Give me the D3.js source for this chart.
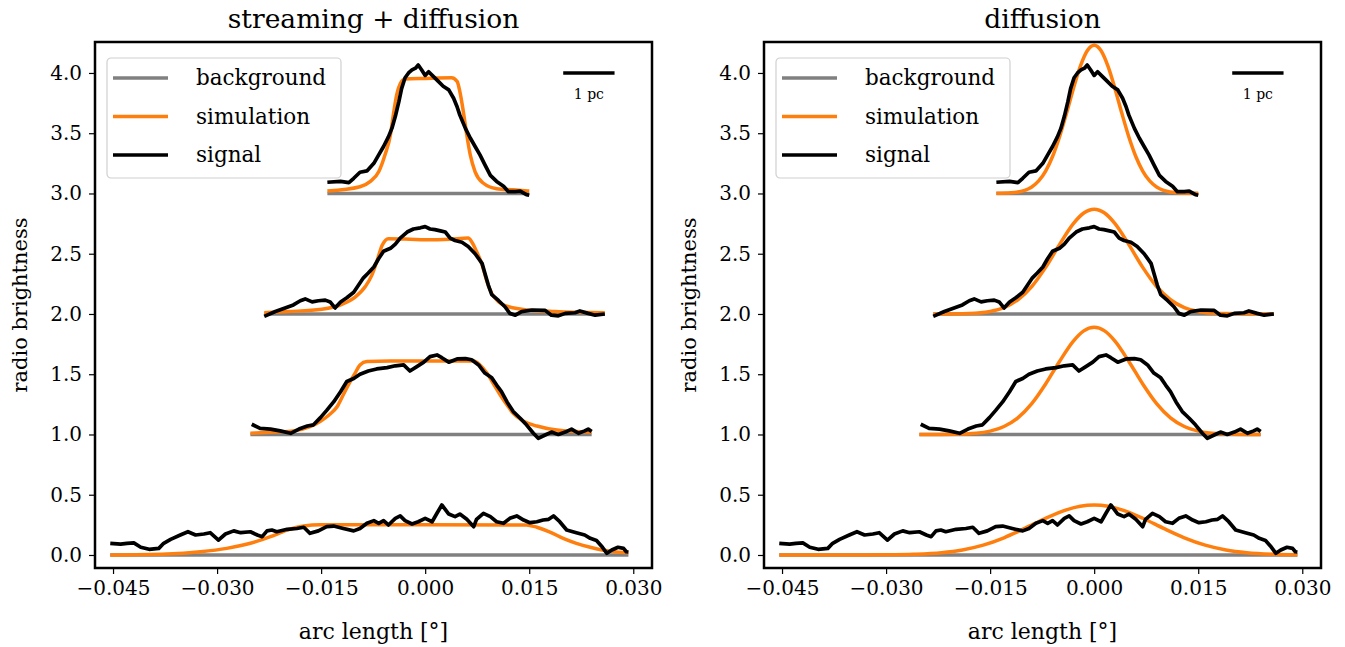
<!DOCTYPE html>
<html>
<head>
<meta charset="utf-8">
<title>radio brightness profiles</title>
<script src="https://cdn.jsdelivr.net/npm/d3@7"></script>
<style>
  body { margin: 0; background: #fff; }
  svg { display: block; }
</style>
</head>
<body>
<div id="chart"></div>
<script>
// ---- data ----
// measured signal, same in both panels: [arc length, brightness]
const signal3 = [[-0.0141,3.093],[-0.0122,3.10],[-0.0110,3.09],[-0.0103,3.126],[-0.0094,3.176],[-0.0084,3.187],[-0.0074,3.25],[-0.0067,3.32],[-0.0060,3.39],[-0.0053,3.47],[-0.0048,3.54],[-0.0043,3.64],[-0.0038,3.76],[-0.0034,3.87],[-0.0029,3.96],[-0.0024,4.00],[-0.0019,4.025],[-0.0014,4.04],[-0.0010,4.066],[-0.0005,4.025],[0.0000,3.98],[0.0005,4.01],[0.0012,3.97],[0.0019,3.93],[0.0026,3.89],[0.0034,3.86],[0.0041,3.79],[0.0046,3.72],[0.0050,3.65],[0.0058,3.54],[0.0065,3.46],[0.0072,3.39],[0.0079,3.32],[0.0086,3.24],[0.0094,3.15],[0.0103,3.10],[0.0113,3.06],[0.0120,3.015],[0.0130,3.015],[0.0137,3.02],[0.0146,2.99],[0.0150,2.985]];
const signal2 = [[-0.0232,1.98],[-0.0216,2.02],[-0.0202,2.05],[-0.0190,2.075],[-0.0180,2.11],[-0.0173,2.125],[-0.0163,2.10],[-0.0154,2.11],[-0.0144,2.115],[-0.0137,2.10],[-0.0130,2.05],[-0.0122,2.10],[-0.0113,2.135],[-0.0103,2.18],[-0.0096,2.24],[-0.0089,2.30],[-0.0082,2.34],[-0.0074,2.39],[-0.0067,2.46],[-0.0060,2.52],[-0.0050,2.545],[-0.0043,2.58],[-0.0036,2.63],[-0.0026,2.68],[-0.0017,2.705],[-0.0007,2.715],[0.0000,2.725],[0.0007,2.705],[0.0014,2.70],[0.0022,2.69],[0.0029,2.68],[0.0036,2.63],[0.0043,2.61],[0.0053,2.595],[0.0062,2.56],[0.0072,2.50],[0.0082,2.42],[0.0086,2.34],[0.0091,2.24],[0.0096,2.16],[0.0106,2.11],[0.0115,2.06],[0.0122,2.005],[0.0130,1.99],[0.0139,2.02],[0.0154,2.033],[0.0173,2.03],[0.0182,1.99],[0.0192,1.985],[0.0202,2.005],[0.0216,2.01],[0.0223,2.025],[0.0235,2.005],[0.0245,1.99],[0.0259,2.00]];
const signal1 = [[-0.0250,1.085],[-0.0238,1.05],[-0.0223,1.045],[-0.0209,1.03],[-0.0194,1.01],[-0.0182,1.045],[-0.0170,1.07],[-0.0161,1.08],[-0.0151,1.14],[-0.0142,1.20],[-0.0132,1.27],[-0.0122,1.355],[-0.0113,1.44],[-0.0103,1.465],[-0.0094,1.50],[-0.0082,1.527],[-0.0070,1.544],[-0.0055,1.555],[-0.0043,1.57],[-0.0031,1.577],[-0.0022,1.527],[-0.0012,1.563],[-0.0002,1.60],[0.0007,1.646],[0.0017,1.66],[0.0024,1.637],[0.0034,1.60],[0.0046,1.627],[0.0058,1.63],[0.0067,1.62],[0.0077,1.577],[0.0086,1.51],[0.0096,1.47],[0.0103,1.41],[0.0110,1.355],[0.0118,1.27],[0.0127,1.19],[0.0137,1.135],[0.0146,1.08],[0.0156,1.01],[0.0163,0.968],[0.0173,0.996],[0.0182,1.02],[0.0192,1.00],[0.0202,1.02],[0.0211,1.045],[0.0221,1.01],[0.0230,1.03],[0.0235,1.045],[0.0240,1.025]];
const signal0 = [[-0.0454,0.097],[-0.0439,0.09],[-0.0430,0.097],[-0.0420,0.10],[-0.0410,0.064],[-0.0398,0.047],[-0.0384,0.055],[-0.0377,0.097],[-0.0367,0.13],[-0.0353,0.166],[-0.0342,0.193],[-0.0331,0.166],[-0.0319,0.174],[-0.0310,0.185],[-0.0298,0.124],[-0.0288,0.174],[-0.0276,0.20],[-0.0266,0.185],[-0.0252,0.193],[-0.0242,0.166],[-0.0235,0.152],[-0.0228,0.20],[-0.0221,0.207],[-0.0214,0.193],[-0.0199,0.213],[-0.0185,0.22],[-0.0175,0.23],[-0.0166,0.18],[-0.0154,0.20],[-0.0142,0.235],[-0.0132,0.24],[-0.0118,0.22],[-0.0103,0.20],[-0.0094,0.22],[-0.0084,0.263],[-0.0074,0.285],[-0.0067,0.263],[-0.0060,0.285],[-0.0053,0.249],[-0.0043,0.304],[-0.0036,0.324],[-0.0029,0.285],[-0.0019,0.257],[-0.0010,0.276],[0.0000,0.304],[0.0010,0.276],[0.0017,0.346],[0.0024,0.415],[0.0034,0.34],[0.0043,0.318],[0.0050,0.34],[0.0060,0.296],[0.0070,0.235],[0.0074,0.296],[0.0084,0.346],[0.0094,0.318],[0.0103,0.276],[0.0113,0.263],[0.0122,0.304],[0.0132,0.324],[0.0142,0.29],[0.0151,0.268],[0.0161,0.276],[0.0170,0.29],[0.0178,0.296],[0.0185,0.324],[0.0194,0.276],[0.0204,0.207],[0.0218,0.185],[0.0230,0.166],[0.0238,0.138],[0.0247,0.12],[0.0254,0.075],[0.0262,0.014],[0.0269,0.041],[0.0278,0.064],[0.0286,0.055],[0.0290,0.027],[0.0293,0.025]];

// streaming + diffusion simulation
const stream3 = [[-0.0141,3.02],[-0.0094,3.056],[-0.0079,3.10],[-0.0067,3.18],[-0.0058,3.32],[-0.0050,3.49],[-0.0046,3.65],[-0.0041,3.82],[-0.0036,3.91],[-0.0029,3.95],[0.0000,3.955],[0.0038,3.96],[0.0046,3.93],[0.0050,3.845],[0.0055,3.68],[0.0060,3.485],[0.0065,3.32],[0.0072,3.18],[0.0084,3.085],[0.0103,3.04],[0.0127,3.03],[0.0150,3.02]];
const stream2 = [[-0.0232,2.01],[-0.0197,2.02],[-0.0149,2.04],[-0.0120,2.08],[-0.0101,2.14],[-0.0086,2.23],[-0.0077,2.32],[-0.0070,2.43],[-0.0062,2.57],[-0.0053,2.625],[-0.0022,2.62],[0.0000,2.615],[0.0036,2.62],[0.0062,2.63],[0.0067,2.60],[0.0074,2.52],[0.0082,2.41],[0.0089,2.27],[0.0096,2.17],[0.0106,2.10],[0.0120,2.06],[0.0139,2.04],[0.0187,2.02],[0.0259,2.01]];
const stream1 = [[-0.0252,1.01],[-0.0218,1.02],[-0.0190,1.03],[-0.0166,1.065],[-0.0151,1.11],[-0.0139,1.16],[-0.0127,1.23],[-0.0118,1.33],[-0.0108,1.44],[-0.0101,1.51],[-0.0094,1.577],[-0.0084,1.605],[-0.0050,1.61],[0.0000,1.61],[0.0070,1.61],[0.0079,1.577],[0.0089,1.51],[0.0098,1.425],[0.0108,1.33],[0.0118,1.245],[0.0127,1.175],[0.0142,1.11],[0.0161,1.07],[0.0190,1.037],[0.0240,1.02]];
const stream0 = [[-0.0454,0.00],[-0.0372,0.008],[-0.0324,0.027],[-0.0286,0.055],[-0.0252,0.097],[-0.0223,0.152],[-0.0199,0.207],[-0.0175,0.240],[-0.0151,0.250],[0.0000,0.250],[0.0146,0.249],[0.0161,0.23],[0.0180,0.19],[0.0199,0.138],[0.0218,0.097],[0.0238,0.064],[0.0257,0.04],[0.0276,0.025],[0.0293,0.02]];

// diffusion-only simulation
const diff3 = [[-0.0141,3.001],[-0.012,3.005],[-0.010,3.026],[-0.009,3.054],[-0.008,3.104],[-0.007,3.186],[-0.006,3.307],[-0.005,3.469],[-0.004,3.663],[-0.003,3.870],[-0.002,4.054],[-0.001,4.184],[0,4.23],[0.001,4.184],[0.002,4.054],[0.003,3.870],[0.004,3.663],[0.005,3.469],[0.006,3.307],[0.007,3.186],[0.008,3.104],[0.009,3.054],[0.010,3.026],[0.012,3.005],[0.0150,3.000]];
const diff2 = [[-0.0232,2.000],[-0.018,2.004],[-0.015,2.021],[-0.013,2.053],[-0.011,2.118],[-0.009,2.228],[-0.007,2.387],[-0.005,2.576],[-0.003,2.750],[-0.0015,2.838],[0,2.87],[0.0015,2.838],[0.003,2.750],[0.005,2.576],[0.007,2.387],[0.009,2.228],[0.011,2.118],[0.013,2.053],[0.015,2.021],[0.018,2.004],[0.0259,2.000]];
const diff1 = [[-0.0252,1.000],[-0.020,1.002],[-0.017,1.010],[-0.015,1.028],[-0.013,1.066],[-0.011,1.138],[-0.009,1.256],[-0.007,1.419],[-0.005,1.606],[-0.003,1.775],[-0.0015,1.860],[0,1.89],[0.0015,1.860],[0.003,1.775],[0.005,1.606],[0.007,1.419],[0.009,1.256],[0.011,1.138],[0.013,1.066],[0.015,1.028],[0.017,1.010],[0.020,1.002],[0.0240,1.000]];
const diff0 = [[-0.0454,0],[-0.035,0.000],[-0.030,0.0014],[-0.026,0.0058],[-0.022,0.019],[-0.019,0.042],[-0.016,0.082],[-0.013,0.143],[-0.010,0.221],[-0.007,0.305],[-0.004,0.375],[-0.002,0.405],[0,0.415],[0.002,0.405],[0.004,0.375],[0.007,0.305],[0.010,0.221],[0.013,0.143],[0.016,0.082],[0.019,0.042],[0.022,0.019],[0.026,0.0058],[0.0293,0.0018]];

// background levels: [start, end, level]
const backgrounds = [[-0.0141,0.0150,3],[-0.0232,0.0259,2],[-0.0252,0.0240,1],[-0.0454,0.0293,0]];
const signals = [signal3, signal2, signal1, signal0];

const xTicks = [-0.045, -0.030, -0.015, 0.000, 0.015, 0.030];
const yTicks = [0.0, 0.5, 1.0, 1.5, 2.0, 2.5, 3.0, 3.5, 4.0];
const legendLabels = ["background", "simulation", "signal"];
const scaleBar = [0.0199, 0.0273, 4.0];
const scaleBarLabel = "1 pc";

const panels = [
  {title: "streaming + diffusion", sims: [stream3, stream2, stream1, stream0], left: 95, right: 652},
  {title: "diffusion", sims: [diff3, diff2, diff1, diff0], left: 764, right: 1321}
];

// ---- layout ----
const width = 1345, height = 647;
const plotTop = 42, plotBottom = 568;
const font = "'DejaVu Serif', 'Liberation Serif', serif";
const colors = {background: "#808080", simulation: "#ff7f0e", signal: "#000000"};

const svg = d3.select("#chart").append("svg")
  .attr("width", width).attr("height", height)
  .style("font-family", font);

panels.forEach(p => {
  const x = d3.scaleLinear().domain([-0.0476, 0.0327]).range([p.left, p.right]);
  const y = d3.scaleLinear().domain([-0.108, 4.257]).range([plotBottom, plotTop]);
  const g = svg.append("g");

  // legend box (drawn under the curves)
  const lg = g.append("g").attr("transform", `translate(${p.left + 12},${plotTop + 16})`);
  lg.append("rect")
    .attr("width", 234).attr("height", 120).attr("rx", 4)
    .attr("fill", "white").attr("fill-opacity", 0.8)
    .attr("stroke", "#d0d0d0").attr("stroke-width", 1.2);
  const legendColors = [colors.background, colors.simulation, colors.signal];
  legendLabels.forEach((lab, i) => {
    const yy = 20 + i * 38.5;
    lg.append("line").attr("x1", 6).attr("x2", 61).attr("y1", yy).attr("y2", yy)
      .attr("stroke", legendColors[i]).attr("stroke-width", 3.5);
    lg.append("text").attr("x", 89).attr("y", yy).attr("dy", "0.33em")
      .attr("font-size", 21.5).text(lab);
  });

  const flat = d3.line().x(d => x(d[0])).y(d => y(d[2]));
  const smooth = d3.line().x(d => x(d[0])).y(d => y(d[1])).curve(d3.curveMonotoneX);
  const raw = d3.line().x(d => x(d[0])).y(d => y(d[1]));

  // background
  g.append("g").selectAll("path")
    .data(backgrounds)
    .join("path")
      .attr("d", b => flat([[b[0], 0, b[2]], [b[1], 0, b[2]]]))
      .attr("stroke", colors.background).attr("stroke-width", 3.5).attr("fill", "none");

  // simulation
  g.append("g").selectAll("path")
    .data(p.sims)
    .join("path")
      .attr("d", smooth)
      .attr("stroke", colors.simulation).attr("stroke-width", 3.5).attr("fill", "none")
      .attr("stroke-linejoin", "round");

  // signal
  g.append("g").selectAll("path")
    .data(signals)
    .join("path")
      .attr("d", raw)
      .attr("stroke", colors.signal).attr("stroke-width", 3.7).attr("fill", "none")
      .attr("stroke-linejoin", "round");

  // scale bar
  g.append("line")
    .attr("x1", x(scaleBar[0])).attr("x2", x(scaleBar[1]))
    .attr("y1", y(scaleBar[2])).attr("y2", y(scaleBar[2]))
    .attr("stroke", "black").attr("stroke-width", 3.5);
  g.append("text")
    .attr("x", (x(scaleBar[0]) + x(scaleBar[1])) / 2).attr("y", y(scaleBar[2]) + 26)
    .attr("text-anchor", "middle").attr("font-size", 14).text(scaleBarLabel);

  // axes
  g.append("g")
    .attr("transform", `translate(0,${plotBottom})`)
    .call(d3.axisBottom(x).tickValues(xTicks).tickFormat(d3.format(".3f")).tickSize(6).tickPadding(7))
    .call(a => a.select(".domain").remove())
    .call(a => a.selectAll("text").attr("font-size", 20).attr("font-family", font).attr("fill", "black"))
    .call(a => a.selectAll("line").attr("stroke-width", 1.2));

  g.append("g")
    .attr("transform", `translate(${p.left},0)`)
    .call(d3.axisLeft(y).tickValues(yTicks).tickFormat(d3.format(".1f")).tickSize(6).tickPadding(7))
    .call(a => a.select(".domain").remove())
    .call(a => a.selectAll("text").attr("font-size", 20).attr("font-family", font).attr("fill", "black"))
    .call(a => a.selectAll("line").attr("stroke-width", 1.2));

  // frame
  g.append("rect")
    .attr("x", p.left).attr("y", plotTop)
    .attr("width", p.right - p.left).attr("height", plotBottom - plotTop)
    .attr("fill", "none").attr("stroke", "black").attr("stroke-width", 2.5);

  // titles and labels
  g.append("text")
    .attr("x", (p.left + p.right) / 2).attr("y", 28)
    .attr("text-anchor", "middle").attr("font-size", 26.5).text(p.title);
  g.append("text")
    .attr("x", (p.left + p.right) / 2).attr("y", 639)
    .attr("text-anchor", "middle").attr("font-size", 22).text("arc length [°]");
  g.append("text")
    .attr("transform", `translate(${p.left - 68},${(plotTop + plotBottom) / 2}) rotate(-90)`)
    .attr("text-anchor", "middle").attr("font-size", 21).text("radio brightness");
});
</script>
</body>
</html>
